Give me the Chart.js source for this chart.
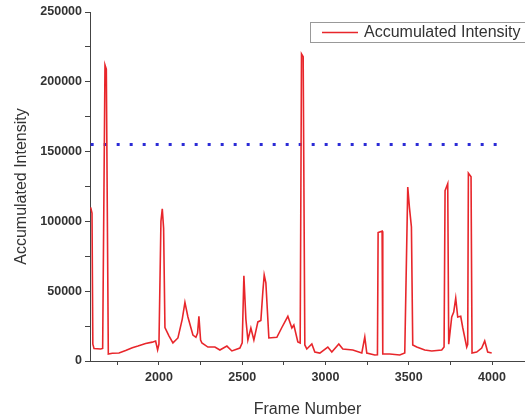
<!DOCTYPE html>
<html>
<head>
<meta charset="utf-8">
<script src="https://cdn.jsdelivr.net/npm/chart.js@4/dist/chart.umd.min.js"></script>
<style>
  html, body { margin: 0; padding: 0; background: #fff; }
  #wrap { width: 525px; height: 419px; position: relative; }
</style>
</head>
<body>
<div id="wrap"><canvas id="intensityChart"></canvas></div>
<script>
// frame numbers and accumulated intensity
const frames = [1590, 1598, 1603, 1610, 1650, 1662, 1676, 1684, 1696, 1720, 1760, 1800, 1840, 1874,
  1920, 1960, 1980, 1992, 2000, 2012, 2020, 2028, 2036, 2060, 2084, 2114, 2140, 2156, 2174, 2204,
  2222, 2232, 2240, 2250, 2258, 2294, 2336, 2366, 2408, 2438, 2486, 2500, 2510, 2522, 2534, 2552,
  2570, 2594, 2612, 2624, 2632, 2642, 2660, 2708, 2738, 2774, 2798, 2810, 2834, 2848, 2856, 2866,
  2876, 2888, 2918, 2936, 2966, 3014, 3038, 3080, 3104, 3164, 3218, 3236, 3248, 3296, 3312, 3316,
  3340, 3344, 3386, 3446, 3476, 3494, 3504, 3516, 3524, 3548, 3596, 3638, 3698, 3712, 3718, 3734,
  3740, 3758, 3770, 3782, 3794, 3812, 3824, 3848, 3854, 3858, 3874, 3880, 3908, 3938, 3956, 3974, 3998];
const intensity = [110000, 106000, 12000, 9000, 8600, 9000, 212000, 209000, 5000, 5500, 5700, 7500, 9500, 10700,
  12500, 13500, 14300, 7900, 12000, 100000, 109000, 95000, 24000, 18000, 13000, 16500, 30000, 42000, 31500, 18600,
  17000, 20000, 32000, 15000, 12900, 10000, 10000, 7900, 10700, 7200, 9300, 13000, 61000, 30000, 15000, 23600,
  15000, 28000, 29000, 50000, 61600, 56000, 16500, 17000, 24000, 32000, 23600, 25800, 13600, 12900, 220000, 218000,
  11500, 8600, 12200, 6400, 5700, 10000, 6400, 12200, 8600, 7900, 5700, 17200, 5700, 4300, 4500, 92000,
  93000, 5000, 5000, 4300, 5700, 124600, 110000, 96000, 11500, 10000, 7900, 7200, 7900, 10000, 122000, 127000,
  12000, 31500, 35000, 45000, 31500, 32000, 24000, 10000, 12000, 134600, 132000, 5700, 6400, 9300, 14300, 6400, 5700];

// threshold line
const thresholdFrames = [1590, 4030];
const thresholdLevel = 155000;

const seriesName = 'Accumulated Intensity';
const xTitle = 'Frame Number';
const yTitle = 'Accumulated Intensity';

const xMin = 1586, xMax = 4198, xStep = 250, xLabelEvery = 500;
const yMin = 0, yMax = 250000, yStep = 25000, yLabelEvery = 50000;

const seriesPoints = frames.map((f, i) => ({ x: f, y: intensity[i] }));
const thresholdPoints = thresholdFrames.map(f => ({ x: f, y: thresholdLevel }));

// boxed legend in the top right corner
const legendBox = {
  id: 'legendBox',
  afterDraw(chart) {
    const c = chart.ctx;
    c.save();
    c.strokeStyle = '#999';
    c.lineWidth = 1;
    c.strokeRect(310.5, 22.5, 230, 20);
    c.strokeStyle = '#e8262b';
    c.lineWidth = 1.5;
    c.beginPath();
    c.moveTo(322, 32.5);
    c.lineTo(358, 32.5);
    c.stroke();
    c.fillStyle = '#333';
    c.font = '16px "Liberation Sans", Arial, sans-serif';
    c.textBaseline = 'middle';
    c.fillText(seriesName, 364, 33);
    c.restore();
  }
};

const ctx = document.getElementById('intensityChart').getContext('2d');
new Chart(ctx, {
  type: 'line',
  data: {
    datasets: [{
      label: seriesName,
      data: seriesPoints,
      borderColor: '#e8262b',
      borderWidth: 1.6,
      pointRadius: 0,
      tension: 0
    }, {
      label: 'threshold',
      data: thresholdPoints,
      borderColor: '#2b2bd6',
      borderWidth: 3,
      borderDash: [3, 10],
      pointRadius: 0
    }]
  },
  options: {
    responsive: true,
    maintainAspectRatio: false,
    animation: false,
    layout: { padding: { top: 12, right: 0, left: 0, bottom: 0 } },
    plugins: {
      legend: { display: false },
      tooltip: { enabled: false }
    },
    scales: {
      x: {
        type: 'linear',
        min: xMin,
        max: xMax,
        afterFit: s => { s.height = 58; },
        border: { color: '#444', width: 1 },
        grid: { drawOnChartArea: false, color: '#444', tickLength: 4 },
        ticks: {
          stepSize: xStep,
          includeBounds: false,
          autoSkip: false,
          maxRotation: 0,
          padding: 5,
          color: '#333',
          font: { family: '"Liberation Sans", Arial, sans-serif', size: 12.5, weight: 'bold' },
          callback: v => (v % xLabelEvery === 0 ? v : '')
        },
        title: {
          display: true,
          text: xTitle,
          color: '#333',
          padding: { top: 4, bottom: 0 },
          font: { family: '"Liberation Sans", Arial, sans-serif', size: 16 }
        }
      },
      y: {
        min: yMin,
        max: yMax,
        afterFit: s => { s.width = 90; },
        border: { color: '#444', width: 1 },
        grid: { drawOnChartArea: false, color: '#444', tickLength: 5 },
        ticks: {
          stepSize: yStep,
          autoSkip: false,
          padding: 3,
          color: '#333',
          font: { family: '"Liberation Sans", Arial, sans-serif', size: 12.5, weight: 'bold' },
          callback: v => (v % yLabelEvery === 0 ? v : '')
        },
        title: {
          display: true,
          text: yTitle,
          color: '#333',
          padding: { top: 12, bottom: 0 },
          font: { family: '"Liberation Sans", Arial, sans-serif', size: 16 }
        }
      }
    }
  },
  plugins: [legendBox]
});
</script>
</body>
</html>
